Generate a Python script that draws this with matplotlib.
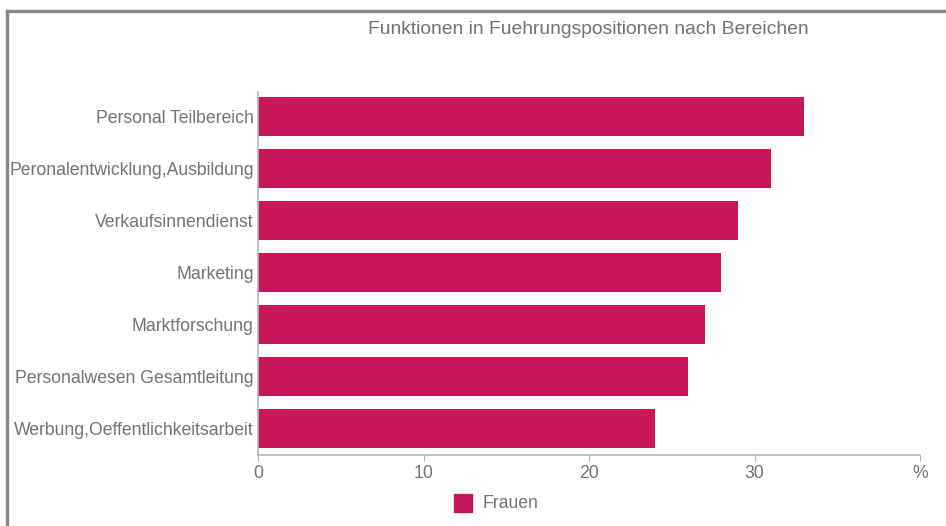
import matplotlib.pyplot as plt
from matplotlib.lines import Line2D
from matplotlib.patches import Patch

plt.rcParams['font.family'] = ['Liberation Sans', 'DejaVu Sans']

# Daten
kategorien = ['Personal Teilbereich', 'Peronalentwicklung,Ausbildung', 'Verkaufsinnendienst',
              'Marketing', 'Marktforschung', 'Personalwesen Gesamtleitung',
              'Werbung,Oeffentlichkeitsarbeit']
frauen = [33, 31, 29, 28, 27, 26, 24]
x_ticks = [0, 10, 20, 30, 40]
x_labels = ['0', '10', '20', '30', '%']

farbe = '#C8165A'
grau_text = '#737373'
grau_achse = '#b4b4b4'

fig = plt.figure(figsize=(9.46, 5.26), dpi=100)
ax = fig.add_axes([258/946, 1 - 455/526, (920 - 258)/946, (455 - 92)/526])

pos = list(range(len(kategorien)))
ax.barh(pos, frauen, height=0.75, color=farbe)
ax.set_ylim(len(kategorien) - 0.5, -0.47)
ax.set_xlim(0, 40)

ax.set_yticks(pos)
ax.set_yticklabels(kategorien, fontsize=12.7, color=grau_text)
ax.set_xticks(x_ticks)
ax.set_xticklabels(x_labels, fontsize=12.7, color=grau_text)
ax.tick_params(axis='y', length=0, pad=3)
ax.tick_params(axis='x', length=4, color=grau_achse, pad=3)

for s in ['top', 'right']:
    ax.spines[s].set_visible(False)
for s in ['left', 'bottom']:
    ax.spines[s].set_color(grau_achse)
    ax.spines[s].set_linewidth(1.2)

fig.text(588/946, 1 - 29/526, 'Funktionen in Fuehrungspositionen nach Bereichen',
         ha='center', va='center', fontsize=13.9, color=grau_text)

fig.legend(handles=[Patch(color=farbe, label='Frauen')],
           loc='center', bbox_to_anchor=(496/946, 1 - 503/526), frameon=False,
           fontsize=12.7, labelcolor=grau_text, handlelength=1.0, handleheight=1.2,
           handletextpad=0.6)

# Rahmen oben und links
fig.add_artist(Line2D([6.5/946, 1], [1 - 10.5/526, 1 - 10.5/526], color='#888888', lw=2.4))
fig.add_artist(Line2D([6.5/946, 6.5/946], [0, 1 - 10.5/526], color='#888888', lw=2.4))

fig.savefig('out.png', dpi=100)
